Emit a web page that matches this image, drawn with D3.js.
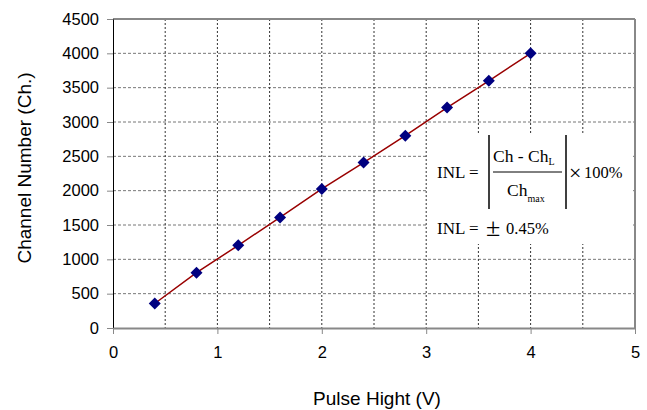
<!DOCTYPE html>
<html>
<head>
<meta charset="utf-8">
<script src="https://cdn.jsdelivr.net/npm/d3@7"></script>
<style>
  body { margin: 0; background: #fff; }
  svg { display: block; font-family: "Liberation Sans", Arial, sans-serif; }
</style>
</head>
<body>
<div id="chart"></div>
<script>
// data
const pulseHeight = [0.4, 0.8, 1.2, 1.6, 2.0, 2.4, 2.8, 3.2, 3.6, 4.0];
const channel = [357, 805, 1205, 1610, 2025, 2410, 2800, 3210, 3600, 4000];
const xTicks = [0, 1, 2, 3, 4, 5];
const yTicks = [0, 500, 1000, 1500, 2000, 2500, 3000, 3500, 4000, 4500];
const xGrid = [0.5, 1, 1.5, 2, 2.5, 3, 3.5, 4, 4.5];
const yGrid = [500, 1000, 1500, 2000, 2500, 3000, 3500, 4000];

const W = 647, H = 410;
const margin = { top: 19, right: 12, bottom: 82, left: 113 };
const width = W - margin.left - margin.right;
const height = H - margin.top - margin.bottom;

const svg = d3.select("#chart").append("svg")
    .attr("width", W)
    .attr("height", H);

const g = svg.append("g")
    .attr("transform", `translate(${margin.left},${margin.top})`);

const x = d3.scaleLinear().domain([0, 5]).range([0, width]);
const y = d3.scaleLinear().domain([0, 4500]).range([height, 0]);

// grid
g.selectAll(".hgrid").data(yGrid).enter().append("line")
    .attr("x1", 0).attr("x2", width)
    .attr("y1", d => y(d)).attr("y2", d => y(d))
    .attr("stroke", "#777").attr("stroke-dasharray", "3,2");

g.selectAll(".vgrid").data(xGrid).enter().append("line")
    .attr("x1", d => x(d)).attr("x2", d => x(d))
    .attr("y1", 0).attr("y2", height)
    .attr("stroke", "#333").attr("stroke-dasharray", "2,2");

// top / right border
g.append("line").attr("x1", 0).attr("x2", width).attr("y1", 0).attr("y2", 0)
    .attr("stroke", "#888").attr("stroke-width", 2);
g.append("line").attr("x1", width).attr("x2", width).attr("y1", 0).attr("y2", height)
    .attr("stroke", "#888").attr("stroke-width", 2);

// axes
const yAxis = g.append("g")
    .call(d3.axisLeft(y).tickValues(yTicks).tickFormat(d3.format("d"))
        .tickSize(6).tickPadding(8).tickSizeOuter(0));
yAxis.select(".domain").attr("stroke", "#000");
yAxis.selectAll(".tick line").attr("stroke", "#888");
yAxis.selectAll("text").attr("font-size", 16.5).attr("fill", "#000")
    .attr("font-family", "Liberation Sans, Arial, sans-serif");

const xAxis = g.append("g")
    .attr("transform", `translate(0,${height})`)
    .call(d3.axisBottom(x).tickValues(xTicks).tickFormat(d3.format("d"))
        .tickSize(6).tickPadding(12).tickSizeOuter(0));
xAxis.select(".domain").attr("stroke", "#888").attr("stroke-width", 2);
xAxis.selectAll(".tick line").attr("stroke", "#888");
xAxis.selectAll("text").attr("font-size", 16.5).attr("fill", "#000")
    .attr("font-family", "Liberation Sans, Arial, sans-serif");

// formula box (covers grid)
g.append("rect")
    .attr("x", 428 - margin.left).attr("y", 133 - margin.top)
    .attr("width", 633 - 428).attr("height", 244 - 133)
    .attr("fill", "#fff");

// line + markers
const pts = pulseHeight.map((v, i) => ({ v, c: channel[i] }));
g.append("path")
    .datum(pts)
    .attr("fill", "none")
    .attr("stroke", "#990000")
    .attr("stroke-width", 1.5)
    .attr("d", d3.line().x(d => x(d.v)).y(d => y(d.c)));

g.selectAll(".pt").data(pts).enter().append("path")
    .attr("d", d3.symbol(d3.symbolSquare, 72))
    .attr("transform", d => `translate(${x(d.v)},${y(d.c)}) rotate(45)`)
    .attr("fill", "#000080");

// axis labels
svg.append("text")
    .attr("x", 377).attr("y", 405)
    .attr("text-anchor", "middle")
    .attr("font-size", 19)
    .text("Pulse Hight (V)");

svg.append("text")
    .attr("transform", "translate(31,168) rotate(-90)")
    .attr("text-anchor", "middle")
    .attr("font-size", 19)
    .text("Channel Number (Ch.)");

// INL formula
const f = svg.append("g")
    .attr("font-family", "Liberation Serif, 'Times New Roman', serif")
    .attr("fill", "#000");

f.append("text").attr("x", 437).attr("y", 178).attr("font-size", 17).text("INL =");
f.append("line").attr("x1", 489).attr("x2", 489).attr("y1", 135).attr("y2", 209)
    .attr("stroke", "#000").attr("stroke-width", 1.5);
f.append("line").attr("x1", 566).attr("x2", 566).attr("y1", 135).attr("y2", 209)
    .attr("stroke", "#000").attr("stroke-width", 1.5);
f.append("line").attr("x1", 493).attr("x2", 562).attr("y1", 172).attr("y2", 172)
    .attr("stroke", "#000").attr("stroke-width", 1);

const num = f.append("text").attr("x", 493).attr("y", 162).attr("font-size", 17.5);
num.append("tspan").text("Ch - Ch");
num.append("tspan").attr("font-size", 10).attr("dy", 3).text("L");

const den = f.append("text").attr("x", 507).attr("y", 196).attr("font-size", 17.5);
den.append("tspan").text("Ch");
den.append("tspan").attr("font-size", 10).attr("dy", 6).text("max");

f.append("text").attr("x", 569).attr("y", 180).attr("font-size", 22).text("\u00D7");
f.append("text").attr("x", 584).attr("y", 178).attr("font-size", 16.5).text("100%");

f.append("text").attr("x", 437).attr("y", 234).attr("font-size", 17).text("INL =");
f.append("text").attr("x", 486).attr("y", 236).attr("font-size", 26).text("\u00B1");
f.append("text").attr("x", 506).attr("y", 234).attr("font-size", 16.5).text("0.45%");
</script>
</body>
</html>
